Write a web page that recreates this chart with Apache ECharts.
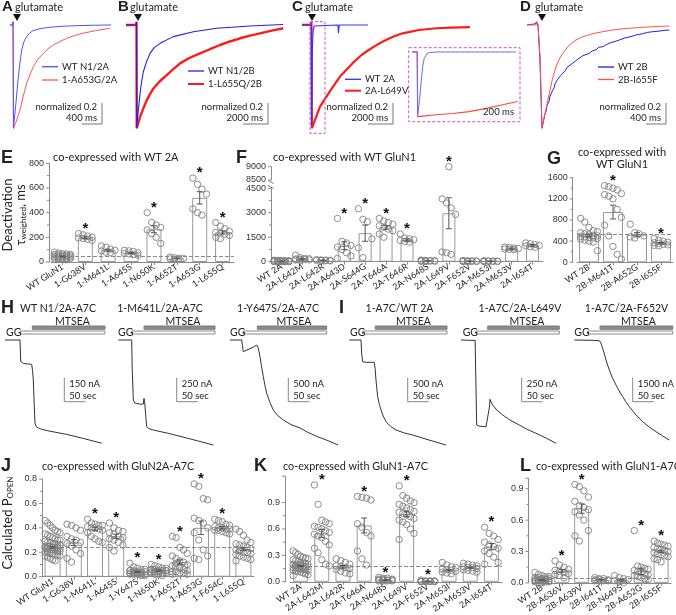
<!DOCTYPE html>
<html><head><meta charset="utf-8">
<script src="https://cdn.jsdelivr.net/npm/echarts@6.0.0/dist/echarts.min.js"></script>
<style>html,body{margin:0;padding:0;background:#fff}#c{width:676px;height:615px}</style>
</head><body><div id="c"></div>
<script>
// ---------------- DATA ----------------
const traceA_wt  = [[-60,0],[-10,0],[0,0.03],[8,-1.0],[60,-0.75],[106,-0.505],[140,-0.36],[174,-0.243],[220,-0.16],[274,-0.114],[330,-0.08],[400,-0.055],[550,-0.035],[740,-0.022],[1000,-0.012],[1400,-0.005],[1960,0]];
const traceA_mut = [[-60,0],[-10,0],[0,0.03],[12,-1.0],[60,-0.94],[100,-0.88],[140,-0.825],[200,-0.7],[274,-0.563],[340,-0.48],[406,-0.405],[500,-0.33],[606,-0.275],[700,-0.23],[806,-0.194],[940,-0.16],[1074,-0.129],[1240,-0.102],[1400,-0.08],[1650,-0.055],[1940,-0.032]];
const traceB_wt  = [[-860,0],[-40,0],[-20,0.03],[0,-1.0],[100,-0.86],[264,-0.663],[400,-0.54],[528,-0.453],[800,-0.35],[1064,-0.275],[1400,-0.22],[1864,-0.178],[2928,-0.113],[4528,-0.065],[6400,-0.032],[9064,-0.01],[11704,0.005]];
const traceB_mut = [[-860,0],[-40,0],[-20,0.03],[0,-1.0],[264,-0.89],[520,-0.81],[800,-0.728],[1064,-0.67],[1328,-0.615],[1850,-0.545],[2400,-0.485],[2900,-0.43],[3464,-0.372],[4200,-0.32],[5064,-0.275],[5850,-0.235],[6664,-0.194],[7450,-0.16],[8264,-0.129],[9064,-0.104],[9864,-0.081],[10800,-0.055],[11728,-0.032]];
const traceC_wt  = [[-776,0],[-60,0],[-40,0.02],[-20,-0.98],[20,-0.6],[60,-0.2],[120,-0.05],[200,-0.01],[300,0],[2100,0],[2140,-0.08],[2200,0],[4500,0]];
const traceC_mut = [[-776,0],[-40,0],[-20,0.03],[20,-1.0],[664,-0.79],[1464,-0.64],[2264,-0.5],[3280,-0.37],[3900,-0.3],[4584,-0.24],[5250,-0.19],[5944,-0.146],[6600,-0.11],[7280,-0.081],[8584,-0.049],[9944,-0.032],[11200,-0.026],[12660,-0.02]];
const insetC_wt  = [[-60,0],[-5,0],[0,-0.97],[20,-0.75],[36,-0.48],[55,-0.22],[71,-0.097],[100,-0.03],[125,-0.01],[200,0],[1060,0]];
const insetC_mut = [[-60,0],[-5,0],[0,-1.0],[60,-0.99],[198,-0.97],[380,-0.95],[554,-0.92],[740,-0.87],[918,-0.815],[1080,-0.765]];
const traceD_mut = [[-260,0],[-80,0],[-60,0.03],[-40,0],[0,-0.3],[40,-1.0],[100,-0.86],[186,-0.663],[250,-0.52],[320,-0.405],[386,-0.33],[454,-0.275],[586,-0.194],[720,-0.145],[854,-0.114],[1050,-0.085],[1254,-0.065],[1500,-0.045],[1786,-0.032],[2200,-0.018],[2586,-0.01]];
const traceD_wt  = [[-260,0],[-100,0.01],[-70,0.03],[-40,0],[0,-0.35],[40,-1.0],[70,-0.93],[100,-0.86],[120,-0.84],[140,-0.78],[160,-0.76],[180,-0.74],[200,-0.69],[220,-0.70],[254,-0.631],[280,-0.61],[300,-0.57],[320,-0.58],[350,-0.53],[380,-0.52],[410,-0.49],[454,-0.469],[480,-0.45],[510,-0.44],[540,-0.41],[570,-0.42],[600,-0.39],[640,-0.375],[680,-0.36],[720,-0.356],[760,-0.33],[800,-0.325],[850,-0.30],[900,-0.29],[986,-0.275],[1050,-0.25],[1120,-0.24],[1180,-0.215],[1254,-0.211],[1330,-0.19],[1420,-0.17],[1500,-0.16],[1586,-0.146],[1700,-0.125],[1800,-0.115],[1920,-0.097],[2050,-0.085],[2150,-0.072],[2254,-0.065],[2380,-0.06],[2480,-0.052],[2586,-0.049]];

const traceH1 = [[0,0],[35.7,0],[37.4,-135],[40,-142],[43.6,-146],[55,-150],[63.5,-152],[65.5,-190],[67.4,-250],[69.5,-400],[71.4,-520],[74,-540],[79.3,-550],[90,-560],[107,-570],[147,-590],[186,-615],[230,-645]];
const traceH2 = [[7.9,0],[39.7,0],[41,-300],[43.6,-624],[47,-655],[51.6,-666],[60,-668],[67.4,-666],[69,-608],[70.5,-640],[73,-780],[75.4,-899],[80,-920],[91.2,-936],[131,-975],[180,-1030],[234,-1092]];
const traceH3 = [[4.8,0],[32.6,0],[36.4,-243],[50,-190],[60,-150],[68.3,-104],[72,-170],[76.2,-348],[80,-560],[84.1,-763],[88,-950],[92.1,-1110],[100,-1300],[107.8,-1456],[118,-1570],[131.6,-1664],[150,-1760],[171.4,-1830],[190,-1920],[211,-2004],[240,-2100],[262,-2184]];
const traceI1 = [[5.5,0],[33.3,0],[35,-300],[37.4,-451],[41,-460],[45.2,-464],[65,-464],[67,-600],[69,-832],[73,-1182],[77,-1340],[81,-1456],[86,-1580],[92.8,-1699],[104,-1800],[116.6,-1872],[135,-1930],[156.4,-1976],[195,-2080],[235.6,-2184]];
const traceI2 = [[2.4,0],[36,-5],[38,-10],[39.7,-884],[45,-895],[61.9,-902],[66,-900],[70,-700],[71.4,-617],[74,-645],[77.8,-676],[88,-730],[101.6,-780],[120,-835],[141,-884],[160,-930],[181,-970],[205,-1020],[228.5,-1074]];
const traceI3 = [[5.5,0],[50,-20],[65,-42],[69,-200],[73,-520],[77,-880],[81,-1250],[85,-1580],[88.8,-1875],[96,-2350],[104.7,-2812],[112,-3180],[120.7,-3544],[128,-3860],[136.4,-4169],[152,-4670],[168.3,-5106],[184,-5440],[200,-5731],[216,-6000],[231.6,-6250]];

const eCats  = ['WT GluN1','1-G638V','1-M641L','1-A645S','1-N650K','1-A652T','1-A653G','1-L655Q'];
const eMeans = [45,195,95,72,265,30,520,240];
const eSems  = [4,8,8,5,28,3,50,13];
const ePts = [
 [80,72,68,65,62,60,58,55,53,50,48,46,45,43,40,38,35,32,30,28,25,22,20,18],
 [230,220,210,200,195,190,185,175],
 [130,120,105,95,90,80,75],
 [95,90,85,75,70,65,60,55],
 [400,320,300,280,260,230,200,150],
 [40,35,30,28,25,22],
 [680,630,590,550,430,400,380],
 [320,290,270,250,240,235,225,215,200,190]];
const eStars = [0,1,0,0,1,0,1,1];
const eTicks = [0,200,400,600,800];
const eRef = 48;

const fCats  = ['WT 2A','2A-L642M','2A-L642R','2A-A643D','2A-S644G','2A-T646A','2A-T646R','2A-N648S','2A-L649V','2A-F652V','2A-M653I','2A-M653V','2A-I654T'];
const fMeans = [30,150,80,980,1750,2100,1330,50,2970,30,30,800,1000];
const fSems  = [5,35,10,240,500,110,70,8,950,5,5,35,45];
const fPts = [
 [90,80,70,60,55,50,45,40,35,30,25,20,18,15,12,10,8,5,20,30],
 [400,250,200,180,160,150,130,110,100,80],
 [130,110,100,90,80,70,60,50],
 [2650,1250,1150,1000,900,750,550,350,200],
 [3250,2600,2450,1400,850,250],
 [2650,2500,2400,2300,2200,2100,2000,1900,1700,1500],
 [1700,1450,1400,1350,1300,1250,1200],
 [100,80,70,60,50,45,40,30,25,20],
 [9000,3850,3600,3300,2900,600,550,450],
 [70,60,50,40,35,30,25,20,15,10],
 [60,50,40,35,30,25,20,15,10],
 [900,870,840,810,780,760,740],
 [1150,1100,1050,1000,960,920,880]];
const fStars = [0,0,0,1,1,1,1,0,1,0,0,0,0];
const fTicksLow = [0,1500,3000,4500];
const fTicksHigh = [8500,9000];
const fRef = 30;

const gCats  = ['WT 2B','2B-M641T','2B-A652G','2B-I655F'];
const gMeans = [510,950,520,360];
const gSems  = [25,130,40,15];
const gPts = [
 [830,760,660,600,580,560,540,520,510,500,490,480,470,460,450,440,420,400,380,220],
 [1450,1430,1400,1370,1300,1280,1250,1200,1000,850,700,500,300,150,60],
 [720,560,540,500,480,460],
 [450,420,400,380,370,360,340,330,320,310]];
const gStars = [0,1,0,1];
const gTicks = [0,400,800,1200,1600];
const gRef = 530;

const jCats  = ['WT GluN1','1-G638V','1-M641L','1-A645S','1-Y647S','1-N650K','1-A652T','1-A653G','1-F654C','1-L655Q'];
const jMeans = [0.24,0.28,0.39,0.33,0.04,0.05,0.12,0.40,0.40,0.225];
const jSems  = [0.006,0.025,0.015,0.018,0.005,0.005,0.018,0.055,0.01,0.012];
const jPts = [
 [0.46,0.44,0.42,0.40,0.38,0.37,0.36,0.35,0.34,0.33,0.32,0.31,0.30,0.30,0.29,0.28,0.28,0.27,0.27,0.26,0.26,0.25,0.25,0.25,0.24,0.24,0.24,0.23,0.23,0.23,0.22,0.22,0.22,0.21,0.21,0.20,0.20,0.19,0.19,0.18,0.18,0.17,0.17,0.16,0.15,0.14,0.13,0.21,0.26,0.24],
 [0.43,0.42,0.40,0.38,0.33,0.31,0.30,0.28,0.27,0.25,0.22,0.19,0.15,0.12],
 [0.47,0.44,0.43,0.42,0.42,0.41,0.40,0.40,0.39,0.38,0.36,0.33,0.31,0.29,0.28],
 [0.44,0.40,0.38,0.37,0.36,0.35,0.33,0.32,0.31,0.30,0.28,0.26,0.24,0.21],
 [0.11,0.08,0.07,0.06,0.06,0.05,0.05,0.04,0.04,0.04,0.03,0.03,0.03,0.03,0.02,0.02,0.02,0.02,0.01,0.01,0.05,0.04,0.03,0.02],
 [0.10,0.09,0.08,0.07,0.07,0.06,0.06,0.05,0.05,0.05,0.04,0.04,0.04,0.03,0.03,0.03,0.02,0.02,0.01,0.05,0.06,0.04],
 [0.33,0.32,0.24,0.22,0.19,0.17,0.15,0.13,0.12,0.10,0.09,0.08,0.07,0.06,0.05,0.04,0.04,0.03,0.03,0.02,0.02,0.11,0.08],
 [0.76,0.74,0.64,0.63,0.48,0.46,0.44,0.40,0.36,0.30,0.22,0.17,0.15,0.14],
 [0.47,0.46,0.45,0.43,0.42,0.41,0.40,0.40,0.39,0.39,0.38,0.38,0.37,0.36,0.35],
 [0.39,0.37,0.34,0.30,0.28,0.27,0.26,0.25,0.24,0.23,0.22,0.21,0.20,0.20,0.19,0.18,0.17,0.16,0.15,0.14,0.13,0.22]];
const jStars = [0,0,1,1,1,1,1,1,1,0];
const jTicks = [0,0.2,0.4,0.6,0.8];
const jRef = 0.245;

const kCats  = ['WT 2A','2A-L642M','2A-L642R','2A-T646A','2A-N648S','2A-L649V','2A-F652V','2A-M653I','2A-M653V','2A-I654T'];
const kMeans = [0.18,0.55,0.17,0.64,0.02,0.77,0.005,0.13,0.16,0.40];
const kSems  = [0.006,0.045,0.015,0.085,0.003,0.03,0.001,0.008,0.006,0.035];
const kPts = [
 [0.35,0.33,0.31,0.29,0.28,0.27,0.26,0.25,0.24,0.23,0.22,0.21,0.21,0.20,0.20,0.19,0.19,0.18,0.18,0.17,0.17,0.16,0.16,0.15,0.15,0.14,0.14,0.13,0.13,0.12,0.12,0.11,0.10,0.09,0.08,0.07,0.18,0.16,0.20,0.15],
 [1.10,0.88,0.70,0.68,0.66,0.63,0.62,0.60,0.58,0.56,0.54,0.52,0.50,0.46,0.42,0.38,0.33,0.25,0.20,0.18],
 [0.26,0.24,0.22,0.20,0.18,0.17,0.16,0.15,0.14,0.12,0.10,0.09],
 [0.97,0.96,0.95,0.93,0.66,0.62,0.56,0.52,0.35,0.26,0.19],
 [0.05,0.04,0.04,0.03,0.03,0.02,0.02,0.02,0.01,0.01,0.01,0.01,0.02,0.03],
 [1.09,0.98,0.95,0.92,0.90,0.88,0.86,0.84,0.82,0.80,0.79,0.78,0.76,0.74,0.72,0.70,0.68,0.65,0.60,0.55,0.48],
 [0.02,0.01,0.01,0.01,0.005,0.005,0.005,0.004,0.003,0.003,0.002,0.002,0.001],
 [0.22,0.19,0.17,0.16,0.15,0.14,0.13,0.12,0.11,0.10,0.09],
 [0.21,0.20,0.19,0.18,0.17,0.16,0.16,0.15,0.14,0.13,0.12,0.11],
 [0.62,0.55,0.52,0.48,0.45,0.42,0.40,0.38,0.35,0.32,0.28,0.22,0.20]];
const kStars = [0,1,0,1,1,1,1,0,0,1];
const kTicks = [0,0.3,0.6,0.9];
const kRef = 0.18;

const lCats  = ['WT 2B','2B-A636V','2B-A639V','2B-I641T','2B-N649S','2B-A652G','2B-I655F'];
const lMeans = [0.03,0.115,0.71,0.03,0.025,0.11,0.30];
const lSems  = [0.004,0.013,0.045,0.003,0.008,0.03,0.012];
const lPts = [
 [0.10,0.08,0.07,0.06,0.06,0.05,0.05,0.04,0.04,0.04,0.03,0.03,0.03,0.03,0.02,0.02,0.02,0.02,0.01,0.01,0.01,0.00,0.00,0.03,0.02],
 [0.21,0.17,0.15,0.13,0.12,0.11,0.10,0.09,0.08,0.07,0.05],
 [0.94,0.92,0.88,0.82,0.78,0.74,0.72,0.70,0.68,0.65,0.60,0.50,0.45,0.40],
 [0.05,0.04,0.04,0.03,0.03,0.03,0.02,0.02,0.02],
 [0.07,0.05,0.04,0.03,0.02,0.01,0.00],
 [0.50,0.16,0.15,0.14,0.13,0.12,0.11,0.10,0.09,0.08,0.07,0.06,0.05,0.04,0.03],
 [0.40,0.38,0.37,0.36,0.35,0.34,0.33,0.32,0.31,0.30,0.29,0.28,0.27,0.26,0.25,0.23,0.22,0.20]];
const lStars = [0,1,1,0,0,1,1];
const lTicks = [0,0.3,0.6,0.9];
const lRef = 0.04;

// ---------------- BUILD ----------------
const AX = '#8a8a8a';
const grids=[], xAxes=[], yAxes=[], series=[], graphics=[], panels=[];
function addGrid(l,t,w,h){ grids.push({left:l,top:t,width:w,height:h,containLabel:false}); return grids.length-1; }

function tracePanel(g, xMin, xMax, yMin, yMax, lines){
  const xi = xAxes.length; xAxes.push({type:'value', gridIndex:g, min:xMin, max:xMax, show:false, splitLine:{show:false}});
  const yi = yAxes.length; yAxes.push({type:'value', gridIndex:g, min:yMin, max:yMax, show:false, splitLine:{show:false}});
  lines.forEach(L => series.push({type:'line', xAxisIndex:xi, yAxisIndex:yi, data:L.data, showSymbol:false, symbol:'none',
    lineStyle:{color:L.color, width:L.width}, animation:false, silent:true, z:L.z||2}));
}

function barPanel(o){
  const g = addGrid(o.left, o.top, o.width, o.height);
  const showX = o.showX !== false;
  const off = o.offset||0;
  const xi = xAxes.length;
  xAxes.push({type:'category', gridIndex:g, data:o.cats,
    axisLine:{show:showX, lineStyle:{color:AX}},
    axisTick:{show:showX, alignWithLabel:true, length:3, lineStyle:{color:AX}},
    axisLabel:{show:showX, interval:0, rotate:33, fontSize:8.8, color:'#222', fontFamily:'Lato', margin:4},
    splitLine:{show:false}});
  const yi = yAxes.length;
  yAxes.push({type:'value', gridIndex:g, min:o.min, max:o.max, offset:off,
    axisLine:{show:true, lineStyle:{color:AX}}, axisTick:{show:false}, axisLabel:{show:false}, splitLine:{show:false}});
  panels.push({o, yi});
  const common = {xAxisIndex:xi, yAxisIndex:yi, animation:false, silent:true};
  if (o.means){
    const bar = Object.assign({type:'bar', data:o.means, barWidth:o.barW, z:2,
      itemStyle:{color:'rgba(255,255,255,0)', borderColor:'#999999', borderWidth:1}}, common);
    if (o.ref != null) bar.markLine = {silent:true, symbol:'none', label:{show:false}, animation:false,
      lineStyle:{type:'dashed', color:'#8a8a8a', width:1}, data:[{yAxis:o.ref}]};
    series.push(bar);
    series.push(Object.assign({type:'custom', z:5,
      data:o.means.map((m,i)=>[i, Math.max(o.min, m-o.sems[i]), m+o.sems[i]]),
      renderItem:(p,api)=>{
        const lo=api.coord([api.value(0),api.value(1)]), hi=api.coord([api.value(0),api.value(2)]);
        const cw=o.capW||3, x=lo[0];
        return {type:'group', children:[
          {type:'line', shape:{x1:x,y1:lo[1],x2:x,y2:hi[1]}, style:{stroke:'#555',lineWidth:1}},
          {type:'line', shape:{x1:x-cw,y1:hi[1],x2:x+cw,y2:hi[1]}, style:{stroke:'#555',lineWidth:1}},
          {type:'line', shape:{x1:x-cw,y1:lo[1],x2:x+cw,y2:lo[1]}, style:{stroke:'#555',lineWidth:1}}]};
      }}, common));
  }
  const pd=[];
  o.pts.forEach((arr,i)=>{ const f=arr.filter(v=>v>=o.min && v<=o.max); f.forEach((v,k)=>pd.push([i,v,k,f.length])); });
  series.push(Object.assign({type:'custom', z:3, data:pd,
    renderItem:(p,api)=>{
      const c=api.coord([api.value(0),api.value(1)]);
      const bw=api.size([1,0])[0];
      const k=api.value(2), n=api.value(3);
      let cols = n>=30?7 : n>=15?5 : n>=6?4 : n>=3?3 : n;
      const step = cols>1 ? Math.min(4.5, bw*0.7/(cols-1)) : 0;
      const dx = ((k%cols) - (cols-1)/2)*step;
      return {type:'circle', shape:{cx:c[0]+dx, cy:c[1], r:3.2}, style:{fill:'rgba(255,255,255,0)', stroke:'#808080', lineWidth:0.9}};
    }}, common));
  const sd=[];
  o.pts.forEach((arr,i)=>{ if(!o.stars[i]) return; const mx=Math.max(...arr); if(mx>=o.min && mx<=o.max) sd.push([i,mx]); });
  series.push(Object.assign({type:'custom', z:6, data:sd,
    renderItem:(p,api)=>{
      const c=api.coord([api.value(0),api.value(1)]);
      return {type:'text', x:c[0], y:c[1]-5, style:{text:'*', font:'bold 15px "Liberation Sans"', fill:'#111',
        textAlign:'center', textVerticalAlign:'middle', align:'center', verticalAlign:'middle'}};
    }}, common));
}

// ---- top traces ----
const TT=19.8, TH=110.5, YMIN=-1.02, YMAX=0.05;
tracePanel(addGrid(10,TT,101,TH), -60, 1960, YMIN, YMAX, [
  {data:traceA_wt, color:'#5050ff', width:1, z:3},{data:traceA_mut, color:'#ff5555', width:1}]);
tracePanel(addGrid(126,TT,159,TH), -860, 11860, YMIN, YMAX, [
  {data:traceB_mut, color:'#ff1a1a', width:2.4},{data:traceB_wt, color:'#2020ee', width:1.1, z:3}]);
tracePanel(addGrid(300,TT,220,TH), -936, 16664, YMIN, YMAX, [
  {data:traceC_mut, color:'#ff1a1a', width:2.2},{data:traceC_wt, color:'#3030ff', width:1.1, z:3}]);
tracePanel(addGrid(408.7,47.7,111,74), -97, 1102, -1.077, 0.066, [
  {data:insetC_mut, color:'#ff4545', width:1.2},{data:insetC_wt, color:'#6a6aff', width:1, z:3}]);
tracePanel(addGrid(527,TT,143,TH), -260, 2600, YMIN, YMAX, [
  {data:traceD_wt, color:'#2020e0', width:1},{data:traceD_mut, color:'#ff5050', width:1, z:3}]);

// ---- MTSEA traces ----
const HT=336, HH=114;
function mts(left,width,tmax,k,data){ tracePanel(addGrid(left,HT,width,HH), 0, tmax, -110*k, 4*k, [{data, color:'#333', width:1}]); }
mts(5,100,238,6.25,traceH1);
mts(115,100,238,10.4,traceH2);
mts(228,110,261.8,20.8,traceH3);
mts(347,105,249.9,20.8,traceI1);
mts(460,100,238,10.4,traceI2);
mts(572,102,242.8,62.5,traceI3);

// ---- bar panels ----
const f1 = v=>v.toFixed(1);
barPanel({left:51,top:163.3,width:183,height:98.7,min:0,max:800,ticks:eTicks,offset:2,cats:eCats,means:eMeans,sems:eSems,pts:ePts,stars:eStars,ref:eRef,barW:15});
barPanel({left:271,top:188.3,width:272,height:73.4,min:0,max:4500,ticks:fTicksLow,cats:fCats,means:fMeans,sems:fSems,pts:fPts,stars:fStars,ref:fRef,barW:13});
barPanel({left:271,top:166.7,width:272,height:13.3,min:8500,max:9000,ticks:fTicksHigh,minor:false,showX:false,cats:fCats,pts:fPts,stars:fStars});
barPanel({left:577,top:177.7,width:96,height:84.6,min:0,max:1600,ticks:gTicks,offset:4.3,cats:gCats,means:gMeans,sems:gSems,pts:gPts,stars:gStars,ref:gRef,barW:20});
barPanel({left:42,top:479,width:212,height:97.7,min:0,max:0.8,ticks:jTicks,fmt:f1,cats:jCats,means:jMeans,sems:jSems,pts:jPts,stars:jStars,ref:jRef,barW:16});
barPanel({left:290,top:476.2,width:212,height:108.8,min:0,max:1.2,ticks:kTicks,offset:5,fmt:f1,cats:kCats,means:kMeans,sems:kSems,pts:kPts,stars:kStars,ref:kRef,barW:15});
barPanel({left:532,top:478.3,width:139,height:107.4,min:0,max:1.0,ticks:lTicks,offset:3.5,fmt:f1,cats:lCats,means:lMeans,sems:lSems,pts:lPts,stars:lStars,ref:lRef,barW:15});

// ---------------- ANNOTATIONS ----------------
function txt(x,y,text,font,o={}){
  graphics.push({type:'text', x, y, rotation:o.rot||0, silent:true, z:20,
    style:{text, font, fill:o.fill||'#222', textAlign:o.align||'left', textVerticalAlign:o.va||'middle',
      align:o.align||'left', verticalAlign:o.va||'middle', rich:o.rich}});
}
function ln(x1,y1,x2,y2,stroke,w,dash){ graphics.push({type:'line', silent:true, z:20, shape:{x1,y1,x2,y2}, style:{stroke, lineWidth:w||1, lineDash:dash||null}}); }
function rect(x,y,w,h,fill,stroke,dash){ graphics.push({type:'rect', silent:true, z:19, shape:{x,y,width:w,height:h}, style:{fill, stroke, lineWidth:1, lineDash:dash||null}}); }
function tri(cx){ graphics.push({type:'polygon', silent:true, z:20, shape:{points:[[cx-4,14],[cx+4,14],[cx,21]]}, style:{fill:'#111'}}); }

const LET='bold 15px "Liberation Sans"', LET2='bold 18px "Liberation Sans"';
const F95='9.5px Lato', F11='11px Lato', F108='10.8px Lato', F105='10.5px Lato';
txt(2,6.5,'A',LET); txt(118,6.5,'B',LET); txt(292,6.5,'C',LET); txt(520,6.5,'D',LET);
txt(1,158.3,'E',LET2); txt(236,158.3,'F',LET2); txt(547,159,'G',LET2);
txt(1,308,'H',LET2); txt(339,308,'I',LET2);
txt(1,466,'J',LET2); txt(254,466,'K',LET2); txt(520,466,'L',LET2);
[[15,17],[130,138],[305,312],[535,542]].forEach(([tx,ax])=>{ txt(tx,7,'glutamate',F11); tri(ax); });
function leg(x,y1,y2,t1,t2,c1,c2,w1,w2){ ln(x,y1,x+16,y1,c1,w1||1.3); ln(x,y2,x+16,y2,c2,w2||1.3); txt(x+20,y1,t1,F95); txt(x+20,y2,t2,F95); }
leg(42,66.7,80,'WT N1/2A','1-A653G/2A','#5050ff','#ff5555');
leg(188,71,84,'WT N1/2B','1-L655Q/2B','#2020ee','#ff1a1a',1.3,2);
leg(345,79.3,90.7,'WT 2A','2A-L649V','#3030ff','#ff1a1a',1.3,2);
leg(598,67,79.5,'WT 2B','2B-I655F','#2020e0','#ff5050');
function nsb(x,t2,hl){ txt(x-5,107,'normalized 0.2',F95,{align:'right'}); txt(x-5,118,t2,F95,{align:'right'}); ln(x,103,x,124,'#777',1); ln(x-hl,124,x,124,'#777',1); }
nsb(102,'400 ms',20); nsb(268,'2000 ms',25); nsb(393,'2000 ms',25); nsb(666,'400 ms',20);
rect(310,21.7,15,111.6,'none','#d34bd3',[3,2]);
rect(408.7,47.7,111.3,74,'none','#d34bd3',[3,2]);
txt(514,112,'200 ms',F95,{align:'right'});
txt(53,157.5,'co-expressed with WT 2A',F11);
txt(273,157.5,'co-expressed with WT GluN1',F11);
txt(622,152,'co-expressed with',F11,{align:'center'});
txt(622,164,'WT GluN1',F11,{align:'center'});
txt(42,467,'co-expressed with GluN2A-A7C',F108);
txt(283,467,'co-expressed with GluN1-A7C',F108);
txt(536,467,'co-expressed with GluN1-A7C',F108);
txt(8,215,'Deactivation','13px Lato',{rot:Math.PI/2,align:'center'});
txt(21,215,'{a|τ}{b|weighted}{a|, ms}','13px Lato',{rot:Math.PI/2,align:'center',
  rich:{a:{font:'13px Lato',fill:'#222',color:'#222'}, b:{font:'8px Lato',fill:'#222',color:'#222',padding:[5,0,0,0]}}});
txt(8,523,'{a|Calculated P}{b|OPEN}','13px Lato',{rot:Math.PI/2,align:'center',
  rich:{a:{font:'13px Lato',fill:'#222',color:'#222'}, b:{font:'8px Lato',fill:'#222',color:'#222',padding:[5,0,0,0]}}});
ln(268,180.5,273.5,183.5,'#777',1); ln(268,185.5,273.5,188.5,'#777',1);
const hdr = [
  {t:'WT N1/2A-A7C',tc:58,mc:72.5,gg:6,o0:20,d0:32.3,e:105,sb:64.3,s:'150 nA'},
  {t:'1-M641L/2A-A7C',tc:160,mc:183,gg:118,o0:131.7,d0:144,e:215,sb:176.7,s:'250 nA'},
  {t:'1-Y647S/2A-A7C',tc:278,mc:294,gg:230,o0:243.3,d0:257.3,e:326.7,sb:288.3,s:'500 nA'},
  {t:'1-A7C/WT 2A',tc:399.5,mc:413.5,gg:350,o0:362.7,d0:375.3,e:447,sb:407.7,s:'500 nA'},
  {t:'1-A7C/2A-L649V',tc:520,mc:527,gg:462.7,o0:476,d0:487.7,e:559.3,sb:521.7,s:'250 nA'},
  {t:'1-A7C/2A-F652V',tc:626.5,mc:638.5,gg:574.3,o0:587.7,d0:600,e:672.7,sb:632.7,s:'1500 nA'}];
hdr.forEach(h=>{
  txt(h.tc,309,h.t,F105,{align:'center'});
  txt(h.mc,321.5,'MTSEA',F105,{align:'center'});
  rect(h.d0,326,h.e-h.d0,3.3,'#8c8c8c','#7a7a7a');
  rect(h.o0,331,h.e-h.o0,3,'#ffffff','#8a8a8a');
  txt(h.gg,332.5,'GG',F105);
  ln(h.sb,377.7,h.sb,401.7,'#888',1); ln(h.sb,401.7,h.sb+21,401.7,'#888',1);
  txt(h.sb+5,384,h.s,F95); txt(h.sb+5,395.5,'50 sec',F95);
});

const chart = echarts.init(document.getElementById('c'), null, {renderer:'canvas', width:676, height:615});
chart.setOption({animation:false, backgroundColor:'#fff', grid:grids, xAxis:xAxes, yAxis:yAxes, series, graphic:{elements:graphics}});

// y-axis ticks and labels, positioned through each panel's own y scale
const tickEls = [];
panels.forEach(({o, yi})=>{
  const ax = o.left - (o.offset||0);
  const put = (v, len, label)=>{
    const y = chart.convertToPixel({yAxisIndex:yi}, v);
    tickEls.push({type:'line', silent:true, z:21, shape:{x1:ax-len, y1:y, x2:ax, y2:y}, style:{stroke:AX, lineWidth:1}});
    if (label) tickEls.push({type:'text', silent:true, z:21, x:ax-5, y:y,
      style:{text:label, font:'9px "Liberation Sans"', fill:'#333', textAlign:'right', textVerticalAlign:'middle', align:'right', verticalAlign:'middle'}});
  };
  o.ticks.forEach(v=>put(v, 3, o.fmt ? o.fmt(v) : String(v)));
  if (o.ticks[o.ticks.length-1] < o.max) put(o.max, 3, null);
  if (o.minor !== false) for (let i=0;i<o.ticks.length-1;i++) put((o.ticks[i]+o.ticks[i+1])/2, 2, null);
});
chart.setOption({graphic:{elements:graphics.concat(tickEls)}});
</script></body></html>
